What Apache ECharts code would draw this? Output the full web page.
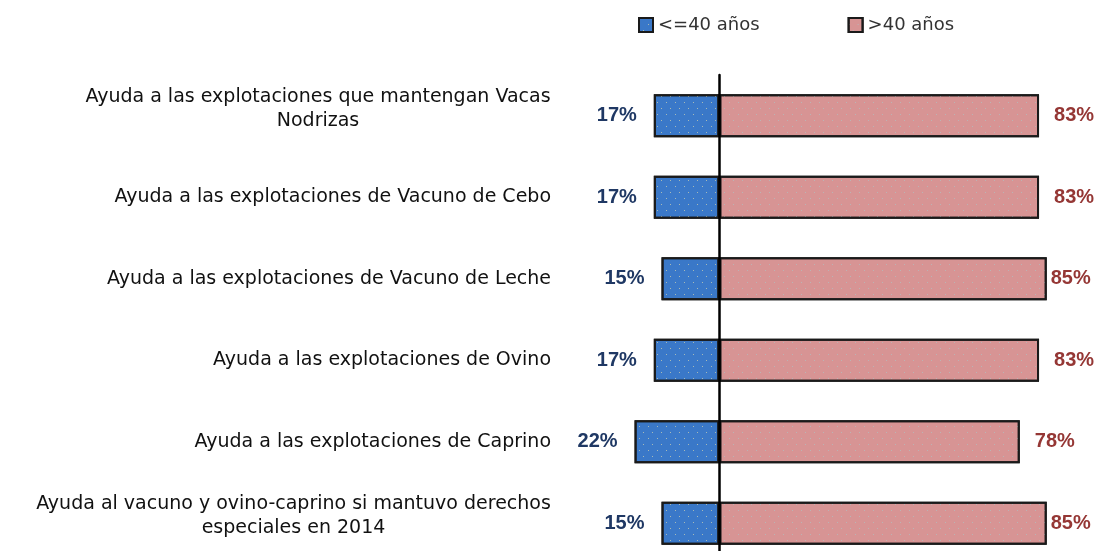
<!DOCTYPE html>
<html>
<head>
<meta charset="utf-8">
<script src="https://cdn.jsdelivr.net/npm/echarts@6/dist/echarts.min.js"></script>
<style>
  html, body { margin: 0; padding: 0; background: #fff; }
  #chart { width: 1098px; height: 551px; }
</style>
</head>
<body>
<div id="chart"></div>
<script>
  // categories, top to bottom
  var categorias = [
    'Ayuda a las explotaciones que mantengan Vacas\nNodrizas',
    'Ayuda a las explotaciones de Vacuno de Cebo',
    'Ayuda a las explotaciones de Vacuno de Leche',
    'Ayuda a las explotaciones de Ovino',
    'Ayuda a las explotaciones de Caprino',
    'Ayuda al vacuno y ovino-caprino si mantuvo derechos\nespeciales en 2014'
  ];
  var jovenes = [17, 17, 15, 17, 22, 15];   // <=40 años
  var mayores = [83, 83, 85, 83, 78, 85];   // >40 años
  var nombres = ['<=40 años', '>40 años'];

  var FONT = '"DejaVu Sans", sans-serif';
  var FS = 19;
  var ctx = document.createElement('canvas').getContext('2d');
  ctx.font = FS + 'px "DejaVu Sans"';

  function anchoMax(val) {
    var lines = val.split('\n');
    return Math.ceil(Math.max.apply(null, lines.map(function (l) { return ctx.measureText(l).width; })));
  }
  // one rich style per category so each two-line block is centred on its own width
  var rich = { g: { lineHeight: 14, fontSize: 10 } };
  categorias.forEach(function (c, i) {
    rich['c' + i] = { fontFamily: FONT, fontSize: FS, color: '#111', lineHeight: 24, width: anchoMax(c), align: 'center' };
  });

  var myChart = echarts.init(document.getElementById('chart'));
  var option = {
    animation: false,
    legend: {
      top: 16,
      left: 638,
      padding: 0,
      icon: 'rect',
      itemWidth: 14,
      itemHeight: 14,
      itemGap: 88,
      textStyle: { fontFamily: FONT, fontSize: 18, color: '#333' },
      data: nombres
    },
    grid: { left: 623, right: 32, top: 75, bottom: -13, outerBoundsMode: 'none' },
    xAxis: {
      type: 'value',
      min: -25,
      max: 90,
      show: false
    },
    yAxis: {
      type: 'category',
      inverse: true,
      data: categorias,
      z: 10,
      axisLine: { show: true, onZero: true, lineStyle: { color: '#000', width: 2.5 } },
      axisTick: { show: false },
      axisLabel: {
        margin: 72,
        fontFamily: FONT,
        fontSize: FS,
        color: '#111',
        lineHeight: 24,
        formatter: function (v, i) {
          var lines = v.split('\n');
          if (lines.length == 1) return v;
          var k = categorias.indexOf(v);
          return lines.map(function (l) { return '{c' + k + '|' + l + '}'; }).join('\n') + '\n{g|}';
        },
        rich: rich
      }
    },
    series: [
      {
        name: nombres[0],
        type: 'bar',
        stack: 'total',
        barWidth: 43,
        data: jovenes.map(function (v) { return -v; }),
        itemStyle: {
          color: '#3a78c8',
          borderColor: '#1a1a1a',
          borderWidth: 2,
          decal: { symbol: 'rect', symbolSize: 1, dashArrayX: [[1, 8], [0, 4, 1, 4]], dashArrayY: [1, 5], color: 'rgba(255,240,170,0.55)' }
        },
        label: {
          show: true,
          position: 'left',
          distance: 17,
          fontFamily: '"Liberation Sans", sans-serif',
          fontWeight: 'bold',
          fontSize: 20,
          color: '#1f3864',
          formatter: function (p) { return Math.abs(p.value) + '%'; }
        }
      },
      {
        name: nombres[1],
        type: 'bar',
        stack: 'total',
        barWidth: 43,
        data: mayores.map(function (v) {
          return { value: v, label: { distance: v >= 85 ? 4 : 15 } };
        }),
        itemStyle: {
          color: '#d79494',
          borderColor: '#1a1a1a',
          borderWidth: 2,
          decal: { symbol: 'rect', symbolSize: 1, dashArrayX: [[1, 8], [0, 4, 1, 4]], dashArrayY: [1, 5], color: 'rgba(170,200,200,0.6)' }
        },
        label: {
          show: true,
          position: 'right',
          fontFamily: '"Liberation Sans", sans-serif',
          fontWeight: 'bold',
          fontSize: 20,
          color: '#953735',
          formatter: function (p) { return p.value + '%'; }
        }
      }
    ]
  };
  myChart.setOption(option);
</script>
</body>
</html>
